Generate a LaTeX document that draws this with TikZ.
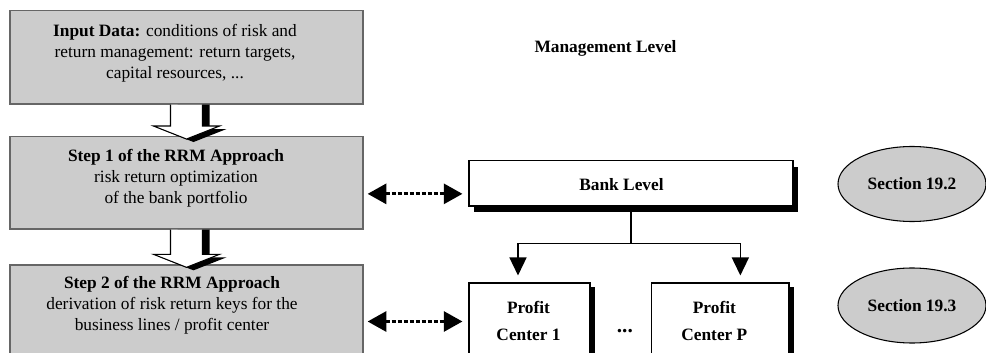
\documentclass[tikz,border=0pt]{standalone}
\usepackage{fontspec}
\setmainfont{Liberation Serif}
\usetikzlibrary{arrows.meta,calc,fit,shapes.geometric,shadows}
\definecolor{boxgray}{RGB}{204,204,204}
\newcommand\blockarr[2]{%
  \fill[black] ($(#1.south)+(-9,0)$) -- ($(#2.north)+(-9,-7)$) -- ($(#2.north)+(-26,-7)$)
    -- ($(#2.north)+(7,6)$) -- ($(#2.north)+(40,-7)$) -- ($(#2.north)+(23,-7)$)
    -- ($(#1.south)+(23,0)$) -- cycle;
  \draw[fill=white, line width=0.8pt, line join=miter] ($(#1.south)+(-16,0)$) -- ($(#2.north)+(-16,-10)$) -- ($(#2.north)+(-33,-10)$)
    -- ($(#2.north)+(0,3)$) -- ($(#2.north)+(33,-10)$) -- ($(#2.north)+(16,-10)$)
    -- ($(#1.south)+(16,0)$);
}
\begin{document}
\begin{tikzpicture}[x=0.75pt, y=-0.75pt,
  font=\fontsize{13pt}{15.75pt}\selectfont,
  gbox/.style={draw=black!60, line width=1pt, fill=boxgray, inner sep=0pt},
  wbox/.style={draw=black, line width=0.8pt, fill=white, inner sep=0pt,
    general shadow={fill=black, shadow xshift=3.75pt, shadow yshift=-4.5pt}},
  pbox/.style={draw=black, line width=0.8pt, fill=white, inner sep=0pt,
    general shadow={fill=black, shadow xshift=3.75pt, shadow yshift=-3pt}},
  txt/.style={align=center, inner sep=0pt},
  sect/.style={ellipse, draw=black, line width=0.8pt, fill=boxgray,
    minimum width=111pt, minimum height=56.25pt, inner sep=0pt, font=\bfseries\fontsize{13pt}{15.75pt}\selectfont},
  dotarr/.style={line width=2.2pt, dash pattern=on 3pt off 1.5pt,
    {Triangle[width=15pt,length=14pt]}-{Triangle[width=15pt,length=14pt]}},
  treearr/.style={line width=1.1pt, -{Triangle[width=12.75pt,length=13.5pt]}}
]
\useasboundingbox (0,0) rectangle (986,353);
\clip (0,0) rectangle (986,353);

% left column
\node[gbox, fit={(10,10.7) (363,104)}] (input) {};
\node[gbox, fit={(10,136.7) (363,229)}] (step1) {};
\node[gbox, fit={(10,265) (363,360)}] (step2) {};

\node[txt] (tin) at ($(input.center)+(-11.5,-4.3)$)
  {\textbf{Input Data:} conditions of risk and\\ return management: return targets,\\ capital resources, ...};
\node[txt] (ts1) at ($(step1.center)+(-10.5,-4.8)$)
  {\textbf{Step 1 of the RRM Approach}\\ risk return optimization\\ of the bank portfolio};
\node[txt] (ts2) at ($(step2.center)+(-14.5,-7.5)$)
  {\textbf{Step 2 of the RRM Approach}\\ derivation of risk return keys for the\\ business lines / profit center};

\blockarr{input}{step1}
\blockarr{step1}{step2}

% right side
\node[txt, font=\bfseries\fontsize{13pt}{15.75pt}\selectfont] (mgmt) at (605.5,48) {Management Level};

\node[wbox, fit={(469,160.7) (793,206)}] (bank) {};
\node[txt, font=\bfseries\fontsize{13pt}{15.75pt}\selectfont] (tbank) at ($(bank.center)+(-9.5,1.5)$) {Bank Level};

\node[pbox, fit={(469,283) (590,360)}] (pc1) {};
\node[pbox, fit={(651.7,283) (789,360)}] (pcP) {};
\node[txt, font=\bfseries\fontsize{13pt}{20.25pt}\selectfont] (tpc1) at ($(pc1.center)+(-1,-1)$) {Profit\\Center 1};
\node[txt, font=\bfseries\fontsize{13pt}{20.25pt}\selectfont] (tpcP) at ($(pcP.center)+(-6,-1)$) {Profit\\Center P};
\node[txt, font=\bfseries\fontsize{16pt}{18pt}\selectfont] (dots) at ($(pc1.east)!0.5!(pcP.west)+(4,10)$) {...};

\node[sect] (s192) at (912,184) {Section 19.2};
\node[sect] (s193) at (912,305.5) {Section 19.3};

% connectors
\draw[dotarr] ($(step1.east)+(4,11)$) -- ($(bank.west |- step1.east)+(-6,11)$);
\draw[dotarr] ($(step2.east |- pc1.west)+(4,0)$) -- ($(pc1.west)+(-6,0)$);

\draw[line width=1.1pt] ($(bank.south)+(0,4)$) -- ($(bank.south)+(0,37)$) coordinate (split);
\draw[treearr] (split) -| ($(pc1.north)+(-11.5,-7)$);
\draw[treearr] (split) -| ($(pcP.north)+(20,-7)$);
\end{tikzpicture}
\end{document}
